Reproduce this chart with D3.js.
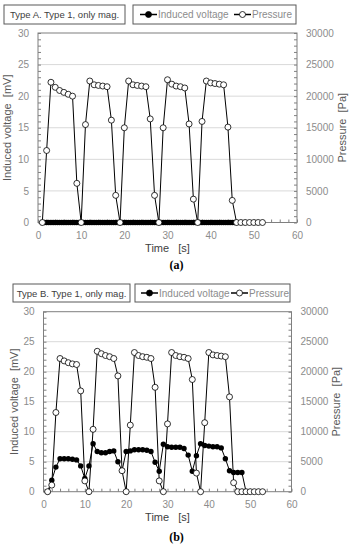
<!DOCTYPE html>
<html>
<head>
<meta charset="utf-8">
<script src="https://cdn.jsdelivr.net/npm/d3@7/dist/d3.min.js"></script>
<style>
    body { margin: 0; background: #fff; }
    svg { display: block; }
    text { font-family: "Liberation Sans", Arial, sans-serif; }
</style>
</head>
<body>
<div id="chart"></div>
<script>
"use strict";

// ---- data ----
// panel (a)
const pressTimeA = [1, 2, 3, 4, 5, 6, 7, 8, 9, 10, 11, 12, 13, 14, 15, 16, 17, 18, 19, 20,
                    21, 22, 23, 24, 25, 26, 27, 28, 29, 30, 31, 32, 33, 34, 35, 36, 37, 38, 39, 40,
                    41, 42, 43, 44, 45, 46, 47, 48, 49, 50, 51, 52];
const pressureA = [0, 11400, 22200, 21400, 20900, 20600, 20300, 20000, 6200, 0,
                   15500, 22400, 21800, 21700, 21600, 21500, 16200, 4300, 0,
                   15000, 22400, 21800, 21700, 21600, 21500, 16400, 4300, 0,
                   15000, 22600, 21900, 21600, 21500, 21300, 15600, 3700, 0,
                   16000, 22400, 22100, 22000, 21900, 21800, 15100, 3500, 0,
                   0, 0, 0, 0, 0, 0];
const voltTimeA = [1, 1.5, 2, 2.5, 3, 3.5, 4, 4.5, 5, 5.5, 6, 6.5, 7, 7.5, 8, 8.5, 9, 9.5, 10, 10.5,
                   11, 11.5, 12, 12.5, 13, 13.5, 14, 14.5, 15, 15.5, 16, 16.5, 17, 17.5, 18, 18.5,
                   19, 19.5, 20, 20.5, 21, 21.5, 22, 22.5, 23, 23.5, 24, 24.5, 25, 25.5, 26, 26.5,
                   27, 27.5, 28, 28.5, 29, 29.5, 30, 30.5, 31, 31.5, 32, 32.5, 33, 33.5, 34, 34.5,
                   35, 35.5, 36, 36.5, 37, 37.5, 38, 38.5, 39, 39.5, 40, 40.5, 41, 41.5, 42, 42.5,
                   43, 43.5, 44, 44.5, 45, 45.5, 46];
const voltageA = [0, 0, 0, 0, 0, 0, 0, 0, 0, 0, 0, 0, 0, 0, 0, 0, 0, 0, 0, 0,
                  0, 0, 0, 0, 0, 0, 0, 0, 0, 0, 0, 0, 0, 0, 0, 0, 0, 0, 0, 0,
                  0, 0, 0, 0, 0, 0, 0, 0, 0, 0, 0, 0, 0, 0, 0, 0, 0, 0, 0, 0,
                  0, 0, 0, 0, 0, 0, 0, 0, 0, 0, 0, 0, 0, 0, 0, 0, 0, 0, 0, 0,
                  0, 0, 0, 0, 0, 0, 0, 0, 0, 0, 0];

// panel (b)
const pressTimeB = [1, 2, 3, 4, 5, 6, 7, 8, 9, 10, 11, 12, 13, 14, 15, 16, 17, 18, 19, 20,
                    21, 22, 23, 24, 25, 26, 27, 28, 29, 30, 31, 32, 33, 34, 35, 36, 37, 38, 39, 40,
                    41, 42, 43, 44, 45, 46, 47, 48, 49, 50, 51, 52, 53];
const pressureB = [0, 1100, 13200, 22200, 21800, 21500, 21300, 21200, 16800, 1800, 0,
                   10400, 23400, 23000, 22700, 22500, 22200, 19300, 3500, 0,
                   11100, 23200, 22700, 22500, 22400, 22200, 17400, 1800, 0,
                   11300, 23200, 22700, 22500, 22400, 22200, 18700, 3100, 0,
                   11500, 23200, 22800, 22700, 22600, 22500, 15800, 1500, 0,
                   0, 0, 0, 0, 0, 0];
const voltTimeB = [1, 2, 3, 4, 5, 6, 7, 8, 9, 10, 11, 12, 13, 14, 15, 16, 17, 18, 19, 20,
                   21, 22, 23, 24, 25, 26, 27, 28, 29, 30, 31, 32, 33, 34, 35, 36, 37, 38, 39, 40,
                   41, 42, 43, 44, 45, 46, 47, 48, 49];
const voltageB = [0, 1.9, 4.1, 5.5, 5.5, 5.5, 5.4, 5.3, 4.3, 2.2, 4.3,
                  8.0, 6.7, 6.5, 6.5, 6.7, 6.8, 5.0, 3.5,
                  6.7, 6.8, 7.0, 7.0, 7.0, 6.9, 6.7, 4.9, 3.4,
                  7.9, 7.5, 7.4, 7.4, 7.4, 7.2, 6.1, 3.4, 6.0,
                  8.0, 7.7, 7.6, 7.5, 7.5, 7.3, 5.5, 3.5, 3.2, 3.2, 3.2, 0];

const xTicks = [0, 10, 20, 30, 40, 50, 60];
const yTicks = [0, 5, 10, 15, 20, 25, 30];
const y2Ticks = [0, 5000, 10000, 15000, 20000, 25000, 30000];
const seriesNames = ["Induced voltage", "Pressure"];

const svg = d3.select("#chart").append("svg")
              .attr("width", 353)
              .attr("height", 550);

const drawPanel = cfg => {
    const g = svg.append("g");
    const xScale = d3.scaleLinear().domain([0, 60]).range([cfg.left, cfg.right]);
    const yScale = d3.scaleLinear().domain([0, 30]).range([cfg.bottom, cfg.top]);
    const y2Scale = d3.scaleLinear().domain([0, 30000]).range([cfg.bottom, cfg.top]);
    const plotH = cfg.bottom - cfg.top;

    // grid
    g.append("g").selectAll("line")
     .data(yTicks.slice(1, -1))
     .join("line")
     .attr("x1", cfg.left).attr("x2", cfg.right)
     .attr("y1", d => yScale(d)).attr("y2", d => yScale(d))
     .attr("stroke", "#d9d9d9").attr("stroke-width", 1);

    // minor inward ticks
    g.append("g")
     .attr("transform", `translate(${cfg.left},0)`)
     .call(d3.axisLeft(yScale).ticks(30).tickSize(-3).tickFormat(""))
     .call(s => s.select(".domain").remove())
     .selectAll("line").attr("stroke", "#808080");
    g.append("g")
     .attr("transform", `translate(${cfg.right},0)`)
     .call(d3.axisRight(y2Scale).ticks(30).tickSize(-3).tickFormat(""))
     .call(s => s.select(".domain").remove())
     .selectAll("line").attr("stroke", "#808080");
    g.append("g")
     .attr("transform", `translate(0,${cfg.bottom})`)
     .call(d3.axisBottom(xScale).ticks(30).tickSize(-3).tickFormat(""))
     .call(s => s.select(".domain").remove())
     .selectAll("line").attr("stroke", "#808080");

    // tick labels
    const labelAxis = (sel, axis) => {
        sel.call(axis.tickSize(0).tickPadding(cfg.pad))
           .call(s => s.select(".domain").remove())
           .selectAll("text")
           .attr("fill", "#8c8c8c")
           .style("font-size", "10px")
           .style("font-family", "'Liberation Sans', Arial, sans-serif");
    };
    g.append("g").attr("transform", `translate(${cfg.left},0)`)
     .call(labelAxis, d3.axisLeft(yScale).tickValues(yTicks));
    g.append("g").attr("transform", `translate(${cfg.right},0)`)
     .call(labelAxis, d3.axisRight(y2Scale).tickValues(y2Ticks).tickFormat(d3.format("d")));
    g.append("g").attr("transform", `translate(0,${cfg.bottom})`)
     .call(labelAxis, d3.axisBottom(xScale).tickValues(xTicks));

    // frame
    g.append("rect")
     .attr("x", cfg.left).attr("y", cfg.top)
     .attr("width", cfg.right - cfg.left).attr("height", plotH)
     .attr("fill", "none").attr("stroke", "#7f7f7f").attr("stroke-width", 1);

    // voltage series
    const vPts = cfg.voltTime.map((t, i) => [t, cfg.voltage[i]]);
    const pPts = cfg.pressTime.map((t, i) => [t, cfg.pressure[i]]);
    g.append("path")
     .datum(vPts)
     .attr("fill", "none").attr("stroke", "#000").attr("stroke-width", 1)
     .attr("d", d3.line().x(d => xScale(d[0])).y(d => yScale(d[1])));
    g.append("g").selectAll("circle")
     .data(vPts)
     .join("circle")
     .attr("cx", d => xScale(d[0])).attr("cy", d => yScale(d[1]))
     .attr("r", 2.7).attr("fill", "#000");

    // pressure series
    g.append("path")
     .datum(pPts)
     .attr("fill", "none").attr("stroke", "#000").attr("stroke-width", 1)
     .attr("d", d3.line().x(d => xScale(d[0])).y(d => y2Scale(d[1])));
    g.append("g").selectAll("circle")
     .data(pPts)
     .join("circle")
     .attr("cx", d => xScale(d[0])).attr("cy", d => y2Scale(d[1]))
     .attr("r", 3).attr("fill", "#fff").attr("stroke", "#000").attr("stroke-width", 0.8);

    // axis titles
    const midY = (cfg.top + cfg.bottom) / 2;
    g.append("text")
     .attr("transform", `translate(${cfg.yTitleX},${midY}) rotate(-90)`)
     .attr("text-anchor", "middle").attr("fill", "#595959")
     .style("font-size", "11px").style("white-space", "pre")
     .text("Induced voltage  [mV]");
    g.append("text")
     .attr("transform", `translate(${cfg.y2TitleX},${midY}) rotate(-90)`)
     .attr("text-anchor", "middle").attr("fill", "#595959")
     .style("font-size", "11px").style("white-space", "pre")
     .text("Pressure  [Pa]");
    g.append("text")
     .attr("x", (cfg.left + cfg.right) / 2).attr("y", cfg.xTitleY)
     .attr("text-anchor", "middle").attr("fill", "#404040")
     .style("font-size", "11px").style("white-space", "pre")
     .text("Time   [s]");

    // caption
    g.append("text")
     .attr("x", 176.5).attr("y", cfg.captionY)
     .attr("text-anchor", "middle").attr("fill", "#000")
     .style("font-family", "'Liberation Serif', 'Times New Roman', serif")
     .style("font-weight", "bold").style("font-size", "12px")
     .text(cfg.caption);

    // title box
    const tb = cfg.titleBox;
    g.append("rect")
     .attr("x", tb[0]).attr("y", tb[1]).attr("width", tb[2]).attr("height", tb[3])
     .attr("fill", "#fff").attr("stroke", "#595959").attr("stroke-width", 1);
    g.append("text")
     .attr("x", tb[0] + tb[2] / 2).attr("y", tb[1] + tb[3] / 2 + 3.5)
     .attr("text-anchor", "middle").attr("fill", "#404040")
     .style("font-size", "9.5px")
     .text(cfg.title);

    // legend box
    const lb = cfg.legendBox;
    g.append("rect")
     .attr("x", lb[0]).attr("y", lb[1]).attr("width", lb[2]).attr("height", lb[3])
     .attr("fill", "#fff").attr("stroke", "#595959").attr("stroke-width", 1);
    const ly = lb[1] + lb[3] / 2;
    const leg = g.append("g").selectAll("g")
                 .data(seriesNames)
                 .join("g")
                 .attr("transform", (d, i) => `translate(${lb[0] + cfg.legendOffsets[i]},${ly})`);
    leg.append("line")
       .attr("x1", 0).attr("x2", 17).attr("y1", 0).attr("y2", 0)
       .attr("stroke", "#000").attr("stroke-width", 1.5);
    leg.append("circle")
       .attr("cx", 8.5).attr("cy", 0).attr("r", 3)
       .attr("fill", (d, i) => i === 0 ? "#000" : "#fff")
       .attr("stroke", "#000").attr("stroke-width", 0.8);
    leg.append("text")
       .attr("x", 18).attr("y", 3.5)
       .attr("fill", "#8c8c8c")
       .style("font-size", "10px")
       .text(d => d);
};

drawPanel({
    left: 38, right: 297, top: 33, bottom: 222.5, pad: 9,
    yTitleX: 11, y2TitleX: 346, xTitleY: 252, captionY: 269, caption: "(a)",
    title: "Type A. Type 1, only mag.",
    titleBox: [4, 5, 121, 19],
    legendBox: [133, 5, 163, 19],
    legendOffsets: [7, 101],
    pressTime: pressTimeA, pressure: pressureA,
    voltTime: voltTimeA, voltage: voltageA
});

drawPanel({
    left: 43.5, right: 291.5, top: 311.7, bottom: 491.7, pad: 9,
    yTitleX: 18, y2TitleX: 340, xTitleY: 521, captionY: 541, caption: "(b)",
    title: "Type B. Type 1, only mag.",
    titleBox: [13, 284, 117, 18],
    legendBox: [135, 284, 155, 18],
    legendOffsets: [6, 96],
    pressTime: pressTimeB, pressure: pressureB,
    voltTime: voltTimeB, voltage: voltageB
});
</script>
</body>
</html>
